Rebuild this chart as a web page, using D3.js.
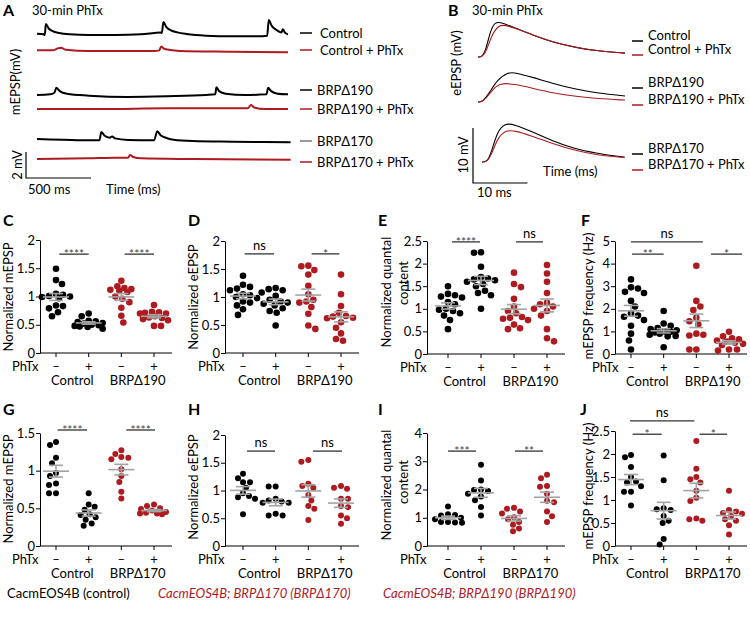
<!DOCTYPE html>
<html><head><meta charset="utf-8">
<script src="https://cdn.jsdelivr.net/npm/d3@7"></script>
<style>body{margin:0;background:#fff}svg{display:block}text{font-family:Lato,'Open Sans',sans-serif}</style>
</head><body><svg id="fig" width="750" height="621"></svg>
<script>
// ---------- DATA ----------
// Panel A traces: [time ms, mV]
const aCtrl = [[0,0.1],[50,0.05],[60,0],[68,0.85],[90,0.5],[120,0.3],[170,0.15],[250,0.05],[400,0],[600,0],[800,0.05],[900,0.15],[950,0.2],[960,0.15],[972,1.0],[995,0.6],[1030,0.35],[1080,0.2],[1150,0.08],[1300,-0.05],[1500,-0.1],[1700,-0.1],[1770,-0.05],[1782,1.15],[1805,0.7],[1840,0.4],[1870,0.22],[1880,0.2],[1890,0.45],[1905,0.2],[1930,0.05]];
const aCtrlPh = [[0,0.05],[120,0.05],[160,0.2],[185,0.25],[220,0.1],[400,0],[900,0],[940,0.05],[955,0.35],[980,0.15],[1100,0],[1500,-0.05],[1930,-0.1]];
const a190 = [[0,0],[100,0.05],[135,0.2],[148,0.55],[175,0.3],[230,0.1],[400,-0.05],[700,-0.15],[1000,-0.1],[1300,0],[1370,0.05],[1380,0.6],[1400,0.3],[1450,0.1],[1600,0],[1765,0.05],[1777,0.55],[1800,0.3],[1850,0.1],[1930,0.05]];
const a190Ph = [[0,0],[500,0],[1000,0.05],[1620,0.05],[1645,0.3],[1670,0.12],[1750,0],[1930,0]];
const a170 = [[0,0.15],[200,0.1],[400,0.05],[480,0.05],[495,0.7],[520,0.4],[560,0.25],[578,0.35],[600,0.2],[700,0.08],[900,0.05],[925,0.75],[950,0.45],[990,0.25],[1050,0.1],[1200,0],[1500,-0.05],[1950,-0.1]];
const a170Ph = [[0,0],[400,0.05],[600,0.1],[700,0.1],[715,0.3],[740,0.15],[800,0.05],[1200,0],[1950,-0.05]];
const aLabels = ["Control","Control + PhTx","BRPΔ190","BRPΔ190 + PhTx","BRPΔ170","BRPΔ170 + PhTx"];
// Panel B traces: [time ms, mV]
const bCtrl = [[0,0],[0.8,0],[1.5,1.5],[2.2,4.5],[3.1,6.5],[4.5,6.2],[7,5.2],[10,4.0],[14,2.6],[18,1.7],[22,1.1],[27,0.7]];
const bCtrlPh = [[0,0],[0.8,0],[1.6,1.2],[2.5,4],[3.8,5.8],[5,5.8],[7,5.2],[10,4.05],[14,2.65],[18,1.7],[22,1.1],[27,0.7]];
const b190 = [[0,0],[0.8,0],[2,1.5],[3.5,4.0],[5.5,5.45],[7,5.3],[10,4.5],[14,3.3],[18,2.3],[22,1.6],[27,1.1]];
const b190Ph = [[0,0],[0.8,0],[2,1.3],[3.3,3.0],[4.8,3.45],[7,3.2],[10,2.5],[14,1.6],[18,1.0],[22,0.6],[27,0.35]];
const b170 = [[0,0],[1,0],[1.8,2],[2.8,5.5],[4.2,7.1],[6,6.8],[9,5.6],[13,3.8],[17,2.4],[21,1.6],[25,1.0],[26.2,0.9]];
const b170Ph = [[0,0],[1,0],[1.9,1.8],[3,4.6],[4.5,5.8],[6,5.7],[9,4.8],[13,3.3],[17,2.1],[21,1.3],[25,0.9],[26.2,0.8]];
// Scatter panels: groups = [Control -, Control +, mutant -, mutant +]
const cData = [
  [1.49,1.29,1.22,1.05,1.03,1.01,1.0,0.99,0.97,0.84,0.83,0.79,0.72,0.65],
  [0.70,0.65,0.57,0.56,0.55,0.53,0.52,0.50,0.49,0.48,0.47,0.46,0.43],
  [1.28,1.18,1.15,1.13,1.12,1.10,1.08,1.0,0.96,0.90,0.80,0.66,0.54],
  [0.85,0.73,0.72,0.71,0.70,0.70,0.65,0.63,0.62,0.60,0.58,0.48,0.48]];
const dData = [
  [1.38,1.22,1.18,1.15,1.12,1.05,1.03,1.0,0.98,0.92,0.90,0.85,0.78,0.68],
  [1.16,1.14,1.12,1.08,1.02,0.95,0.92,0.90,0.88,0.85,0.80,0.75,0.72,0.49],
  [1.56,1.55,1.48,1.40,1.20,1.05,0.95,0.92,0.90,0.82,0.70,0.49,0.43],
  [1.40,1.05,0.84,0.72,0.66,0.65,0.63,0.62,0.55,0.45,0.35,0.25,0.22]];
const eData = [
  [1.50,1.33,1.30,1.27,1.25,1.15,1.10,1.0,0.98,0.95,0.90,0.85,0.75,0.55],
  [2.25,2.24,1.93,1.70,1.67,1.65,1.63,1.60,1.55,1.50,1.40,1.35,1.30,1.00],
  [1.80,1.55,1.48,1.22,1.05,0.95,0.90,0.82,0.80,0.78,0.75,0.65,0.57,0.55],
  [1.97,1.78,1.60,1.35,1.13,1.10,1.05,1.00,0.95,0.85,0.55,0.35,0.28]];
const fData = [
  [3.3,2.95,2.9,2.75,2.7,2.35,2.1,1.8,1.7,1.65,1.5,1.25,0.9,0.6,0.2],
  [1.9,1.35,1.25,1.15,1.1,1.05,1.0,0.98,0.95,0.9,0.85,0.8,0.78,0.3],
  [3.9,2.35,2.1,1.95,1.6,1.45,1.3,0.9,0.85,0.82,0.2,0.2],
  [0.98,0.78,0.7,0.65,0.6,0.55,0.5,0.45,0.4,0.2,0.2,0.15]];
const gData = [
  [1.38,1.34,1.17,1.10,0.97,0.93,0.83,0.81,0.70,0.70],
  [0.70,0.55,0.52,0.48,0.42,0.41,0.38,0.35,0.30,0.27],
  [1.27,1.22,1.18,1.17,1.15,1.02,0.93,0.85,0.72,0.63],
  [0.55,0.53,0.50,0.49,0.47,0.45,0.44,0.43,0.43,0.42]];
const hData = [
  [1.30,1.22,1.15,1.15,1.05,0.95,0.90,0.88,0.85,0.57],
  [1.07,1.07,0.85,0.82,0.80,0.78,0.78,0.58,0.55,0.55],
  [1.55,1.52,1.12,1.08,1.05,0.92,0.82,0.72,0.67,0.47],
  [1.08,1.05,1.03,0.85,0.85,0.72,0.70,0.55,0.50,0.40]];
const iData = [
  [1.40,1.12,1.10,1.08,1.0,0.95,0.85,0.85,0.83,0.82],
  [2.88,2.32,2.0,1.98,1.95,1.85,1.75,1.62,1.38,1.08],
  [1.35,1.32,1.22,1.15,1.02,0.95,0.85,0.75,0.62,0.52],
  [2.52,2.40,2.12,2.10,1.85,1.60,1.55,1.22,1.05,0.85]];
const jData = [
  [1.98,1.93,1.72,1.50,1.40,1.38,1.30,1.18,1.18,0.88],
  [1.97,1.43,0.82,0.80,0.78,0.65,0.55,0.50,0.15,0.03],
  [2.28,1.68,1.50,1.45,1.38,1.20,1.05,0.98,0.60,0.58,0.55],
  [1.20,0.78,0.75,0.72,0.70,0.65,0.58,0.55,0.45,0.25]];
// significance annotations: from/to group index, level (data units), label
const cSig = [{a:0.1,b:1,v:1.75,t:"****"},{a:2.1,b:3,v:1.75,t:"****"}];
const dSig = [{a:0.05,b:0.95,v:1.77,t:"ns"},{a:2.1,b:2.95,v:1.77,t:"*"}];
const eSig = [{a:0.12,b:0.97,v:2.48,t:"****"},{a:2.06,b:2.88,v:2.48,t:"ns"}];
const fSig = [{a:0.03,b:1.0,v:4.42,t:"**"},{a:0,b:2.2,v:4.96,t:"ns"},{a:2.45,b:3.4,v:4.42,t:"*"}];
const gSig = [{a:0.05,b:0.95,v:1.54,t:"****"},{a:2.15,b:3.03,v:1.54,t:"****"}];
const hSig = [{a:0.12,b:0.98,v:1.71,t:"ns"},{a:2.14,b:3.03,v:1.71,t:"ns"}];
const iSig = [{a:0,b:0.85,v:3.36,t:"***"},{a:2.03,b:2.88,v:3.36,t:"**"}];
const jSig = [{a:0.05,b:0.94,v:2.43,t:"*"},{a:-0.03,b:1.94,v:2.72,t:"ns"},{a:2.1,b:2.94,v:2.43,t:"*"}];
const phtxMarks = ["–","+","–","+"];
const groupNames190 = ["Control","BRPΔ190"];
const groupNames170 = ["Control","BRPΔ170"];
const legendItems = ["CacmEOS4B (control)","CacmEOS4B; BRPΔ170 (BRPΔ170)","CacmEOS4B; BRPΔ190 (BRPΔ190)"];

// ---------- DRAW ----------
const svg = d3.select("#fig");
const RED = "#ad1a1f", GRAY = "#a3a3a3", FS = 13;
function txt(x,y,s,o={}){
  const t = svg.append("text").attr("x",x).attr("y",y).text(s).attr("font-size",o.fs||FS).attr("fill",o.fill||"#000");
  if(o.anchor) t.attr("text-anchor",o.anchor);
  if(o.bold) t.attr("font-weight","bold");
  if(o.italic) t.attr("font-style","italic");
  if(o.rot!==undefined) t.attr("transform",`rotate(${o.rot},${x},${y})`).attr("dominant-baseline","central");
  return t;
}
// Panel letters
[["A",3,16],["B",448,16],["C",3,226],["D",188,226],["E",378,226],["F",581,226],["G",3,415],["H",188,415],["I",378,415],["J",580,415]]
  .forEach(([l,x,y])=>txt(x,y,l,{bold:true,fs:16}));

// ---- Panel A ----
txt(32,15,"30-min PhTx");
const xA = d3.scaleLinear().domain([0,1930]).range([37,288]);
const aTraces = [[aCtrl,35,"#000"],[aCtrlPh,51,RED],[a190,95,"#000"],[a190Ph,109,RED],[a170,141,"#000"],[a170Ph,159,RED]];
aTraces.forEach(([d,base,col])=>{
  const y = d3.scaleLinear().domain([0,1]).range([base,base-13]);
  svg.append("path").attr("d",d3.line().x(p=>xA(p[0])).y(p=>y(p[1])).curve(d3.curveMonotoneX)(d))
    .attr("fill","none").attr("stroke",col).attr("stroke-width",2).attr("stroke-linejoin","round");
});
const aLegY = [33,50,90,109,141,162];
aLabels.forEach((l,i)=>{
  const col = i%2? RED : (i===4? "#777":"#000");
  svg.append("line").attr("x1",300).attr("x2",312).attr("y1",aLegY[i]).attr("y2",aLegY[i]).attr("stroke",col).attr("stroke-width",1.5);
  txt(i<2?320:317,aLegY[i]+4.5,l);
});
txt(15,82,"mEPSP(mV)",{rot:-90,anchor:"middle"});
{
  const yS = d3.scaleLinear().domain([0,2]).range([178,152]);
  const xS = d3.scaleLinear().domain([0,500]).range([26,26+xA(500)-xA(0)]);
  svg.append("path").attr("d",`M${xS(0)},${yS(2)}V${yS(0)}H${xS(500)}`).attr("fill","none").attr("stroke","#000").attr("stroke-width",1.2);
  txt(17,165,"2 mV",{rot:-90,anchor:"middle"});
  txt(28,194,"500 ms");
  txt(106,194,"Time (ms)");
}
// ---- Panel B ----
txt(472,15,"30-min PhTx");
const xB = d3.scaleLinear().domain([0,27]).range([478,625]);
const bTraces = [[bCtrl,57,"#000",0],[bCtrlPh,57,RED,0],[b190,102,"#000",0],[b190Ph,102,RED,0],[b170,162,"#000",4],[b170Ph,162,RED,4]];
bTraces.forEach(([d,base,col,off])=>{
  const y = d3.scaleLinear().domain([0,1]).range([base,base-5.5]);
  svg.append("path").attr("d",d3.line().x(p=>xB(p[0])+off).y(p=>y(p[1])).curve(d3.curveBasis)(d))
    .attr("fill","none").attr("stroke",col).attr("stroke-width",1.1);
});
const bLegY = [41,55,88,105,154,170];
aLabels.forEach((l,i)=>{
  svg.append("line").attr("x1",632).attr("x2",643).attr("y1",bLegY[i]).attr("y2",bLegY[i]).attr("stroke",i%2?RED:"#000").attr("stroke-width",1.5);
  txt(648,bLegY[i]-1,l);
});
txt(456,63,"eEPSP (mV)",{rot:-90,anchor:"middle"});
{
  const yS = d3.scaleLinear().domain([0,10]).range([183,128]);
  const xS = d3.scaleLinear().domain([0,10]).range([473,473+xB(10)-xB(0)]);
  svg.append("path").attr("d",`M${xS(0)},${yS(10)}V${yS(0)}H${xS(10)}`).attr("fill","none").attr("stroke","#000").attr("stroke-width",1.2);
  txt(463,155,"10 mV",{rot:-90,anchor:"middle"});
  txt(477,197,"10 ms");
  txt(543,176,"Time (ms)");
}

// ---- Scatter panels ----
function swarm(vals,y,r){
  const pts = vals.map(v=>({v,py:y(v)})).sort((a,b)=>a.py-b.py);
  const placed=[], minD=2*r+0.3, maxOff=14;
  pts.forEach(p=>{
    const s = (placed.length%2)?-1:1;
    const cands=[0];
    for(let k=1;k<=maxOff;k++){cands.push(s*k,-s*k);}
    let dx = cands.find(c=>placed.every(q=>Math.hypot(q.dx-c,q.py-p.py)>=minD));
    if(dx===undefined){
      let best=-1;
      cands.forEach(c=>{const md=d3.min(placed,q=>Math.hypot(q.dx-c,q.py-p.py));if(md>best){best=md;dx=c;}});
    }
    p.dx=dx; placed.push(p);
  });
  return placed;
}
function scatterPanel(cfg,data,sigs,names){
  const y = d3.scaleLinear().domain([0,cfg.max]).range([cfg.yZero,cfg.yTop]);
  const x = d3.scaleLinear().domain([0,3]).range([cfg.x0,cfg.x3]);
  const ax = svg.append("g").attr("transform",`translate(${cfg.axisX},0)`)
    .call(d3.axisLeft(y).tickValues(d3.range(0,cfg.max+1e-9,cfg.step)).tickSize(4).tickSizeOuter(0).tickFormat(d3.format("~g")));
  ax.attr("font-size",FS).attr("font-family","Lato,'Open Sans',sans-serif");
  ax.selectAll("text").attr("x",-5).attr("fill","#000");
  ax.selectAll("line,path").attr("stroke","#000");
  svg.append("line").attr("x1",cfg.axisX).attr("x2",cfg.x3+18).attr("y1",cfg.yZero).attr("y2",cfg.yZero).attr("stroke","#000");
  [0,1,2,3].forEach(i=>{
    svg.append("line").attr("x1",x(i)).attr("x2",x(i)).attr("y1",cfg.yZero).attr("y2",cfg.yZero+4).attr("stroke","#000");
    txt(x(i),cfg.yZero+18,phtxMarks[i],{anchor:"middle"});
  });
  txt(cfg.phtxX,cfg.yZero+18,"PhTx");
  txt((x(0)+x(1))/2,cfg.yZero+32,names[0],{anchor:"middle"});
  txt((x(2)+x(3))/2,cfg.yZero+32,names[1],{anchor:"middle"});
  data.forEach((vals,i)=>{
    const pts = swarm(vals,y,cfg.r);
    svg.append("g").selectAll("circle").data(pts).join("circle")
      .attr("cx",p=>x(i)+p.dx).attr("cy",p=>p.py).attr("r",cfg.r).attr("fill",i<2?"#000":RED);
  });
  data.forEach((vals,i)=>{
    const m = d3.mean(vals), sem = d3.deviation(vals)/Math.sqrt(vals.length);
    const g = svg.append("g").attr("stroke",GRAY).attr("stroke-width",1.6);
    g.append("line").attr("x1",x(i)-13).attr("x2",x(i)+13).attr("y1",y(m)).attr("y2",y(m));
    g.append("line").attr("x1",x(i)).attr("x2",x(i)).attr("y1",y(m-sem)).attr("y2",y(m+sem));
    [m-sem,m+sem].forEach(v=>g.append("line").attr("x1",x(i)-7).attr("x2",x(i)+7).attr("y1",y(v)).attr("y2",y(v)));
  });
  sigs.forEach(s=>{
    const ly = y(s.v);
    svg.append("line").attr("x1",x(s.a)).attr("x2",x(s.b)).attr("y1",ly).attr("y2",ly).attr("stroke","#333").attr("stroke-width",1.3);
    const star = s.t.includes("*");
    txt((x(s.a)+x(s.b))/2,star?ly+4:ly-4,s.t,{anchor:"middle",fs:star?12:13,fill:star?"#444":"#000"});
  });
  cfg.labels.forEach(([s,lx,ly])=>txt(lx,ly,s,{rot:-90,anchor:"middle"}));
}
const R1=3.3, R2=3.0;
scatterPanel({axisX:40,x0:56,x3:154,yTop:240,yZero:353,max:2,step:0.5,r:R1,phtxX:12,labels:[["Normalized mEPSP",8,297]]},cData,cSig,groupNames190);
scatterPanel({axisX:225,x0:243,x3:341,yTop:241,yZero:353,max:2,step:0.5,r:R1,phtxX:198,labels:[["Normalized eEPSP",193,297]]},dData,dSig,groupNames190);
scatterPanel({axisX:427,x0:448,x3:547,yTop:241,yZero:354,max:2.5,step:0.5,r:R1,phtxX:400,labels:[["Normalized quantal",386,292],["content",403,283]]},eData,eSig,groupNames190);
scatterPanel({axisX:615,x0:631,x3:729,yTop:241,yZero:354,max:5,step:1,r:R1,phtxX:592,labels:[["mEPSP frequency (Hz)",588,296]]},fData,fSig,groupNames190);
scatterPanel({axisX:40,x0:56,x3:154,yTop:433,yZero:546,max:1.5,step:0.5,r:R2,phtxX:12,labels:[["Normalized mEPSP",8,489]]},gData,gSig,groupNames170);
scatterPanel({axisX:225,x0:243,x3:341,yTop:435,yZero:546,max:2,step:0.5,r:R2,phtxX:198,labels:[["Normalized eEPSP",193,487]]},hData,hSig,groupNames170);
scatterPanel({axisX:427,x0:448,x3:547,yTop:433,yZero:546,max:4,step:1,r:R2,phtxX:400,labels:[["Normalized quantal",386,485],["content",403,482]]},iData,iSig,groupNames170);
scatterPanel({axisX:615,x0:631,x3:729,yTop:431,yZero:546,max:2.5,step:0.5,r:R2,phtxX:592,labels:[["mEPSP frequency (Hz)",588,486]]},jData,jSig,groupNames170);

// bottom legend
txt(7,598,legendItems[0]);
txt(158,598,legendItems[1],{italic:true,fill:RED});
txt(383,598,legendItems[2],{italic:true,fill:RED});
</script></body></html>
